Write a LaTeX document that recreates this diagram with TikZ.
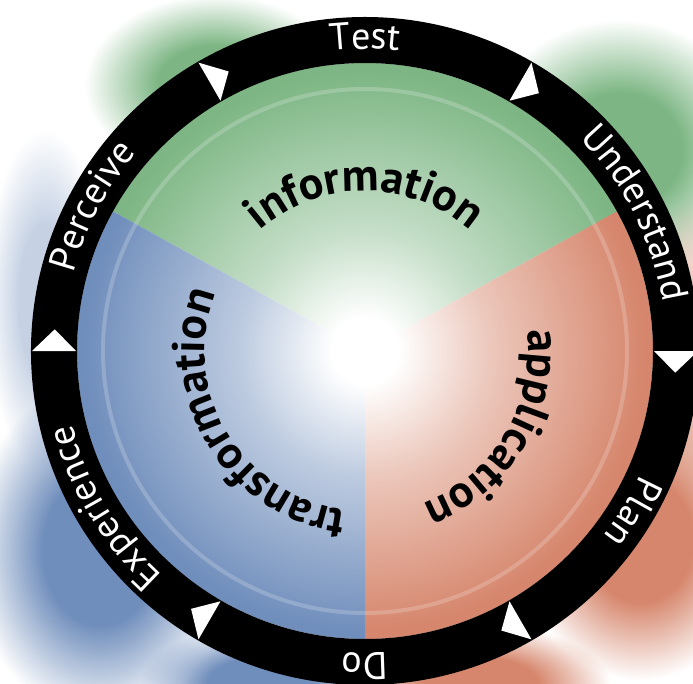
\documentclass[tikz,border=0pt]{standalone}
\usepackage{fontspec}
\setmainfont{PT Sans}
\usetikzlibrary{decorations.text, fadings}
\definecolor{infogreen}{RGB}{125,182,132}
\definecolor{applred}{RGB}{214,134,108}
\definecolor{transblue}{RGB}{112,142,188}
\pgfdeclareradialshading{blobshade}{\pgfpoint{0bp}{0bp}}{color(0bp)=(white); color(11bp)=(white); color(25bp)=(black); color(50bp)=(black)}
\pgfdeclarefading{blobfade}{\pgfuseshading{blobshade}}
\pgfdeclareradialshading{glowshade}{\pgfpoint{0bp}{0bp}}{color(0bp)=(white); color(3bp)=(white); color(11bp)=(black!45); color(25bp)=(black); color(50bp)=(black)}
\pgfdeclarefading{glowfade}{\pgfuseshading{glowshade}}
\tikzstyle{blob} = [path fading=blobfade]
\tikzstyle{cyclehead} = [fill=white]
\tikzstyle{ringlabel} = [decorate, decoration={text along path, text align=center, text color=white}]
\tikzstyle{phaselabel} = [decorate, decoration={text along path, text align=center, text color=black}]
\newcommand{\ringfont}{\fontsize{10.8}{12}\selectfont}
\newcommand{\phasefont}{\fontsize{13}{15}\selectfont\bfseries}

\begin{document}
\begin{tikzpicture}[x=0.01cm, y=0.01cm]
		\useasboundingbox (-365,-333) rectangle (328,351);
		\coordinate (ctr) at (0,0);
		% blurred colour behind the ring
		\fill[infogreen, blob] (-150,266) ellipse [x radius=130, y radius=90];
		\fill[infogreen, blob] (255,201) ellipse [x radius=140, y radius=130];
		\fill[transblue, blob] (-265,-199) ellipse [x radius=130, y radius=170];
		\fill[transblue, blob, opacity=0.4] (-320,51) ellipse [x radius=60, y radius=170];
		\fill[transblue, blob] (-105,-333) ellipse [x radius=120, y radius=60];
		\fill[applred, blob] (275,-189) ellipse [x radius=120, y radius=140];
		\fill[applred, blob, opacity=0.5] (325,-9) ellipse [x radius=50, y radius=160];
		\fill[applred, blob] (115,-333) ellipse [x radius=130, y radius=60];
		% the three phases
		\fill[infogreen] (ctr) -- (29:288) arc[start angle=29, end angle=151, radius=288] -- cycle;
		\fill[applred] (ctr) -- (-90:288) arc[start angle=-90, end angle=29, radius=288] -- cycle;
		\fill[transblue] (ctr) -- (151:288) arc[start angle=151, end angle=270, radius=288] -- cycle;
		\fill[white, path fading=glowfade] (ctr) circle (280);
		\draw[white, opacity=0.2, line width=0.04cm] (ctr) circle (262);
		% ring
		\draw[line width=0.46cm] (ctr) circle (311);
		\fill[cyclehead] (180:289) -- (180:333) -- (176:311) -- cycle;
		\fill[cyclehead] (120:289) -- (120:333) -- (116:311) -- cycle;
		\fill[cyclehead] (60:289) -- (60:333) -- (56:311) -- cycle;
		\fill[cyclehead] (0:289) -- (0:333) -- (-4:311) -- cycle;
		\fill[cyclehead] (-60:289) -- (-60:333) -- (-64:311) -- cycle;
		\fill[cyclehead] (-120:289) -- (-120:333) -- (-124:311) -- cycle;
		% ring labels
		\path[ringlabel, decoration={text={|\ringfont|Test}}] (140:302) arc[start angle=140, end angle=40, radius=302];
		\path[ringlabel, decoration={text={|\ringfont|Understand}}] (77:302) arc[start angle=77, end angle=-23, radius=302];
		\path[ringlabel, decoration={text={|\ringfont|Plan}}] (19:302) arc[start angle=19, end angle=-81, radius=302];
		\path[ringlabel, decoration={text={|\ringfont|Do}}] (-40:302) arc[start angle=-40, end angle=-140, radius=302];
		\path[ringlabel, decoration={text={|\ringfont|Experience}}] (261:302) arc[start angle=261, end angle=161, radius=302];
		\path[ringlabel, decoration={text={|\ringfont|Perceive}}] (202:302) arc[start angle=202, end angle=102, radius=302];
		% phase labels
		\path[phaselabel, decoration={text={|\phasefont|information}}] (160:160) arc[start angle=160, end angle=20, radius=160];
		\path[phaselabel, decoration={text={|\phasefont|application}}] (39:163) arc[start angle=39, end angle=-101, radius=163];
		\path[phaselabel, decoration={text={|\phasefont|transformation}}] (291:160) arc[start angle=291, end angle=131, radius=160];
	\end{tikzpicture}
\end{document}
